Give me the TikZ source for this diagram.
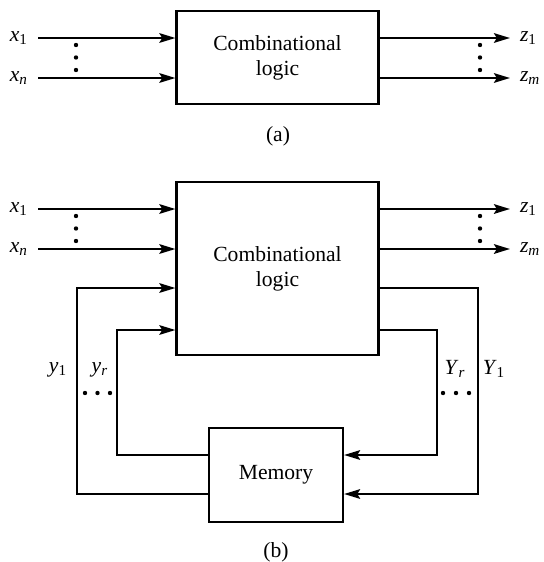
\documentclass[tikz,border=0pt]{standalone}
\usepackage{fontspec}
\setmainfont{Liberation Serif}
\usepackage{tikz}
\usetikzlibrary{arrows.meta}

\newcommand{\sig}[2]{\textit{#1}\textsubscript{#2}}

\begin{document}
\begin{tikzpicture}[
  x=0.5pt, y=-0.5pt,
  font=\fontsize{10.8}{12.5}\selectfont,
  box/.style={draw, line width=1.1pt, align=center, inner sep=0pt},
  lbl/.style={inner sep=1pt, outer sep=4pt},
  arr/.style={-{Stealth[length=8pt, width=4.8pt, inset=1.4pt]}, line width=1.1pt}
]
\useasboundingbox (0,0) rectangle (544,562);

% (a) combinational circuit
\node[box, minimum width=101pt, minimum height=46.5pt] at (277.5,57.5) (comba) {Combinational\\logic};

\node[lbl, anchor=east] at (38,38) (xa1) {\sig{x}{1}};
\node[lbl, anchor=east] at (38,78) (xan) {\sig{x}{\textit{n}}};
\node[lbl, anchor=west] at (510,38) (za1) {\sig{z}{1}};
\node[lbl, anchor=west] at (510,78) (zam) {\sig{z}{\textit{m}}};

\node at (278,136) (capa) {(a)};

\draw[arr] (xa1.east) -- (xa1 -| comba.west);
\draw[arr] (xan.east) -- (xan -| comba.west);
\draw[arr] (za1 -| comba.east) -- (za1.west);
\draw[arr] (zam -| comba.east) -- (zam.west);

\foreach \dy in {7,19.5,32} {
  \fill (76,38+\dy) circle[radius=1.1pt];
  \fill (480,38+\dy) circle[radius=1.1pt];
}

% (b) sequential circuit
\node[box, minimum width=101pt, minimum height=86.5pt] at (277.5,268.5) (combb) {Combinational\\logic};
\node[box, minimum width=67pt, minimum height=47pt] at (276,475) (mem) {Memory};

\node[lbl, anchor=east] at (38,209) (xb1) {\sig{x}{1}};
\node[lbl, anchor=east] at (38,249) (xbn) {\sig{x}{\textit{n}}};
\node[lbl, anchor=west] at (510,209) (zb1) {\sig{z}{1}};
\node[lbl, anchor=west] at (510,249) (zbm) {\sig{z}{\textit{m}}};

\node at (58,370) (ly1lbl) {\sig{y}{1}};
\node at (100,370) (lyrlbl) {\sig{y}{\textit{r}}};
\node at (455,369) (rYrlbl) {\sig{Y}{\textit{r}}};
\node at (494,369) (rY1lbl) {\sig{Y}{1}};

\node at (276,552) (capb) {(b)};

% feedback corners
\coordinate (ly1)  at (77,288);
\coordinate (ly1b) at (77,494);
\coordinate (lyr)  at (117,330);
\coordinate (lyrb) at (117,455);
\coordinate (rY1)  at (478,288);
\coordinate (rY1b) at (478,494);
\coordinate (rYr)  at (437,330);
\coordinate (rYrb) at (437,455);

\draw[arr] (xb1.east) -- (xb1 -| combb.west);
\draw[arr] (xbn.east) -- (xbn -| combb.west);
\draw[arr] (zb1 -| combb.east) -- (zb1.west);
\draw[arr] (zbm -| combb.east) -- (zbm.west);

\draw[arr] (mem.west |- ly1b) -- (ly1b) -- (ly1) -- (ly1 -| combb.west);
\draw[arr] (mem.west |- lyrb) -- (lyrb) -- (lyr) -- (lyr -| combb.west);
\draw[arr] (combb.east |- rY1) -- (rY1) -- (rY1b) -- (rY1b -| mem.east);
\draw[arr] (combb.east |- rYr) -- (rYr) -- (rYrb) -- (rYrb -| mem.east);

\foreach \dy in {7,19.5,32} {
  \fill (76,209+\dy) circle[radius=1.1pt];
  \fill (480,209+\dy) circle[radius=1.1pt];
}
\foreach \px in {85,97.5,110} \fill (\px,393) circle[radius=1.1pt];
\foreach \px in {443,456,469} \fill (\px,393) circle[radius=1.1pt];

\end{tikzpicture}
\end{document}
